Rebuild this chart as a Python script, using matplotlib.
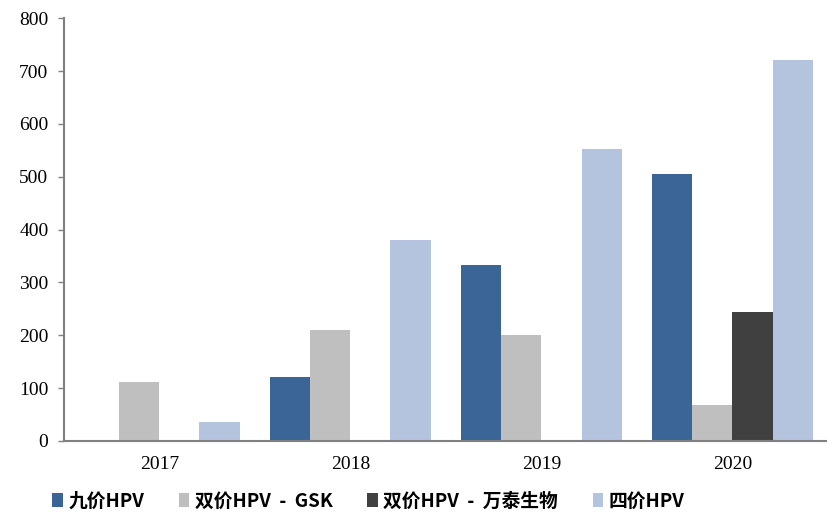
import numpy as np
import matplotlib.pyplot as plt

plt.rcParams['font.family'] = ['Noto Sans CJK SC', 'DejaVu Sans']

years = ['2017', '2018', '2019', '2020']
series = ['九价HPV', '双价HPV  -  GSK', '双价HPV  -  万泰生物', '四价HPV']
nine = [0, 122, 333, 505]
gsk = [112, 210, 200, 68]
wantai = [0, 0, 0, 245]
four = [35, 380, 553, 720]
colors = ['#3A6596', '#BFBFBF', '#404040', '#B4C4DF']

fig = plt.figure(figsize=(8.28, 5.15), dpi=100)
ax = fig.add_axes([0.077, 0.1437, 0.923, 0.821])

x = np.arange(len(years))
w = 0.21
for i, (vals, name) in enumerate(zip([nine, gsk, wantai, four], series)):
    ax.bar(x + (i - 1.5) * w, vals, w, color=colors[i], label=name)

ax.set_xlim(-0.5, 3.5)
ax.set_ylim(0, 800)
ax.set_yticks(range(0, 801, 100))
ax.set_xticks(x)
ax.set_xticklabels(years)
for s in ['top', 'right']:
    ax.spines[s].set_visible(False)
for s in ['left', 'bottom']:
    ax.spines[s].set_color('#808080')
    ax.spines[s].set_linewidth(1.5)
ax.tick_params(axis='y', length=4, color='#808080', width=1, pad=7)
ax.tick_params(axis='x', length=0, pad=11)
for lab in ax.get_xticklabels() + ax.get_yticklabels():
    lab.set_fontfamily('Liberation Serif')
    lab.set_fontsize(14)

fig.legend(loc='lower left', bbox_to_anchor=(0.043, -0.024), ncol=4, frameon=False,
           handlelength=0.55, handleheight=0.8, handletextpad=0.3,
           columnspacing=1.85, prop={'weight': 'bold', 'size': 13.5})

fig.savefig('out.png', dpi=100)
